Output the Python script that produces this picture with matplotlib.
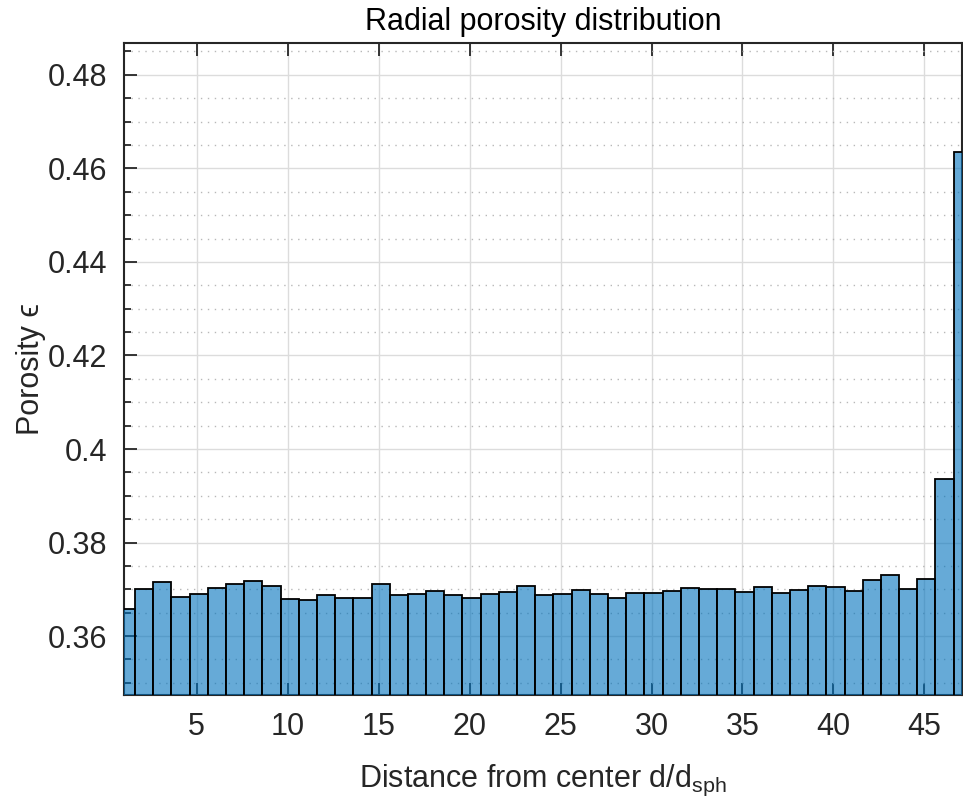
import numpy as np
import matplotlib.pyplot as plt
from matplotlib.ticker import MultipleLocator

plt.rcParams['font.family'] = ['Liberation Sans', 'DejaVu Sans']
plt.rcParams['mathtext.fontset'] = 'custom'
plt.rcParams['mathtext.rm'] = 'Liberation Sans'
plt.rcParams['mathtext.it'] = 'Liberation Sans:italic'

# porosity per radial bin (bin width 1 d_sph, first bin starts at 0.61)
bin_start = 0.61
bin_width = 1.0
porosity = [0.3657, 0.3700, 0.3716, 0.3683, 0.3691, 0.3703, 0.3711, 0.3718,
            0.3708, 0.3679, 0.3678, 0.3687, 0.3681, 0.3681, 0.3712, 0.3688,
            0.3691, 0.3696, 0.3688, 0.3681, 0.3691, 0.3694, 0.3707, 0.3688,
            0.3691, 0.3699, 0.3691, 0.3681, 0.3692, 0.3693, 0.3696, 0.3703,
            0.3701, 0.3700, 0.3694, 0.3705, 0.3693, 0.3699, 0.3708, 0.3706,
            0.3696, 0.3721, 0.3731, 0.3700, 0.3722, 0.3935, 0.4634]
xticks = [5, 10, 15, 20, 25, 30, 35, 40, 45]
yticks = [0.36, 0.38, 0.40, 0.42, 0.44, 0.46, 0.48]
ytick_labels = ['0.36', '0.38', '0.4', '0.42', '0.44', '0.46', '0.48']

txt = '#262626'
fig = plt.figure(figsize=(9.63, 8.05), dpi=100)
ax = fig.add_axes([0.1287, 0.1366, 0.8703, 0.8094])

left = bin_start + bin_width * np.arange(len(porosity))
ax.bar(left, porosity, width=bin_width, align='edge',
       color=(0, 0.447, 0.741, 0.6), edgecolor='black', linewidth=1.3, zorder=3)

ax.set_xlim(1, 47.07)
ax.set_ylim(0.3474, 0.4867)
ax.set_xticks(xticks)
ax.set_yticks(yticks)
ax.set_yticklabels(ytick_labels)
ax.yaxis.set_minor_locator(MultipleLocator(0.005))

ax.grid(True, which='major', color='#dcdcdc', linewidth=1.0, zorder=0)
ax.grid(True, which='minor', axis='y', color='#b8b8b8', linestyle=(0, (1, 4)),
        linewidth=1.0, zorder=0)
ax.set_axisbelow(True)

ax.tick_params(axis='both', which='major', direction='in', length=9, width=1.3,
               labelsize=22, colors=txt, top=True, pad=12)
ax.tick_params(axis='y', which='minor', direction='in', length=5, width=1.3,
               colors=txt)
for s in ax.spines.values():
    s.set_color(txt)
    s.set_linewidth(1.5)

ax.set_title('Radial porosity distribution', fontsize=22, color='black', pad=10)
ax.set_xlabel(r'Distance from center d/d$_{\mathrm{sph}}$', fontsize=22,
              color=txt, labelpad=15)
ax.set_ylabel('Porosity \u03f5', fontsize=22, color=txt, labelpad=1,
              family=['Liberation Sans', 'DejaVu Sans'])

fig.savefig('out.png', dpi=100)
